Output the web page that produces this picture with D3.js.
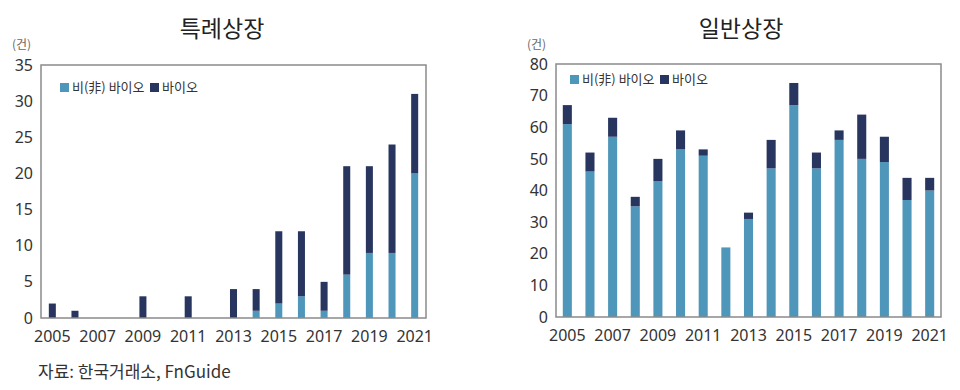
<!DOCTYPE html>
<html>
<head>
<meta charset="utf-8">
<script src="https://cdn.jsdelivr.net/npm/d3@7"></script>
<style>
  body { margin: 0; background: #fff; }
  svg text { font-family: "Noto Sans CJK KR", "Noto Sans", sans-serif; }
</style>
</head>
<body>
<div id="chart"></div>
<script>
// data
let years = d3.range(2005, 2022).map(String);
let tickYears = ['2005','2007','2009','2011','2013','2015','2017','2019','2021'];

// 특례상장
let specialNonBio = [0,0,0,0,0,0,0,0,0,1,2,3,1,6,9,9,20];
let specialBio    = [2,1,0,0,3,0,3,0,4,3,10,9,4,15,12,15,11];

// 일반상장
let generalNonBio = [61,46,57,35,43,53,51,22,31,47,67,47,56,50,49,37,40];
let generalBio    = [6,6,6,3,7,6,2,0,2,9,7,5,3,14,8,7,4];

let seriesNames = ['비(非) 바이오', '바이오'];
let colors = ['#4f96bb', '#27355f'];

let svg = d3.select('#chart')
  .append('svg')
    .attr('width', 960)
    .attr('height', 390)
;

function drawPanel(opt) {
  let x = d3.scaleBand()
    .domain(years)
    .range([opt.left, opt.right])
    .paddingInner(opt.pad)
    .paddingOuter(opt.pad / 2);

  let y = d3.scaleLinear()
    .domain([0, opt.max])
    .range([opt.bottom, opt.top]);

  let rows = years.map(function(yr, i){
    return {year: yr, nonbio: opt.nonbio[i], bio: opt.bio[i]};
  });
  let stacked = d3.stack().keys(['nonbio', 'bio'])(rows);

  let g = svg.append('g');

  // title
  g.append('text')
      .attr('x', opt.titleX)
      .attr('y', 37)
      .attr('text-anchor', 'middle')
      .attr('font-size', 23)
      .attr('fill', '#222')
      .text(opt.title);

  // unit
  g.append('text')
      .attr('x', opt.unitX)
      .attr('y', 49)
      .attr('font-size', 12)
      .attr('fill', '#666')
      .text('(건)');

  // bars
  g.selectAll('.layer').data(stacked).enter()
    .append('g')
      .attr('class', 'layer')
      .attr('fill', function(d, i){ return colors[i]; })
    .selectAll('rect').data(function(d){ return d; }).enter()
    .append('rect')
      .attr('x', function(d){ return x(d.data.year); })
      .attr('width', x.bandwidth())
      .attr('y', function(d){ return y(d[1]); })
      .attr('height', function(d){ return y(d[0]) - y(d[1]); });

  // frame
  g.append('rect')
      .attr('x', opt.left)
      .attr('y', opt.top)
      .attr('width', opt.right - opt.left)
      .attr('height', opt.bottom - opt.top)
      .attr('fill', 'none')
      .attr('stroke', '#8a8a8a')
      .attr('stroke-width', 1.5);

  // y axis
  let yAxis = g.append('g')
      .attr('transform', 'translate(' + opt.left + ',0)')
      .call(d3.axisLeft(y).ticks(opt.max / opt.step).tickSize(0).tickPadding(8));
  yAxis.select('.domain').remove();
  yAxis.selectAll('text')
      .attr('font-size', 16)
      .attr('fill', '#333')
      .style('font-family', '"Noto Sans", sans-serif');

  // x axis
  let xAxis = g.append('g')
      .attr('transform', 'translate(0,' + opt.bottom + ')')
      .call(d3.axisBottom(x).tickValues(tickYears).tickSize(0).tickPadding(13));
  xAxis.select('.domain').remove();
  xAxis.selectAll('text')
      .attr('font-size', 16)
      .attr('fill', '#333')
      .style('font-family', '"Noto Sans", sans-serif');

  // legend
  let lg = g.append('g')
      .attr('transform', 'translate(' + opt.legendX + ',' + opt.legendY + ')');
  let offsets = [0, 90];
  seriesNames.forEach(function(name, i){
    lg.append('rect')
        .attr('x', offsets[i])
        .attr('y', -9)
        .attr('width', 9)
        .attr('height', 9)
        .attr('fill', colors[i]);
    lg.append('text')
        .attr('x', offsets[i] + 12)
        .attr('y', 0)
        .attr('font-size', 13)
        .attr('fill', '#333')
        .text(name);
  });
}

drawPanel({
  title: '특례상장', titleX: 222, unitX: 12,
  left: 41, right: 426, top: 65, bottom: 318,
  max: 35, step: 5, pad: 0.69,
  nonbio: specialNonBio, bio: specialBio,
  legendX: 60, legendY: 92
});

drawPanel({
  title: '일반상장', titleX: 741, unitX: 527,
  left: 556, right: 941, top: 64, bottom: 317,
  max: 80, step: 10, pad: 0.6,
  nonbio: generalNonBio, bio: generalBio,
  legendX: 570, legendY: 84
});

// source
svg.append('text')
    .attr('x', 38)
    .attr('y', 378)
    .attr('font-size', 17)
    .attr('fill', '#333')
    .text('자료: 한국거래소, FnGuide');
</script>
</body>
</html>
